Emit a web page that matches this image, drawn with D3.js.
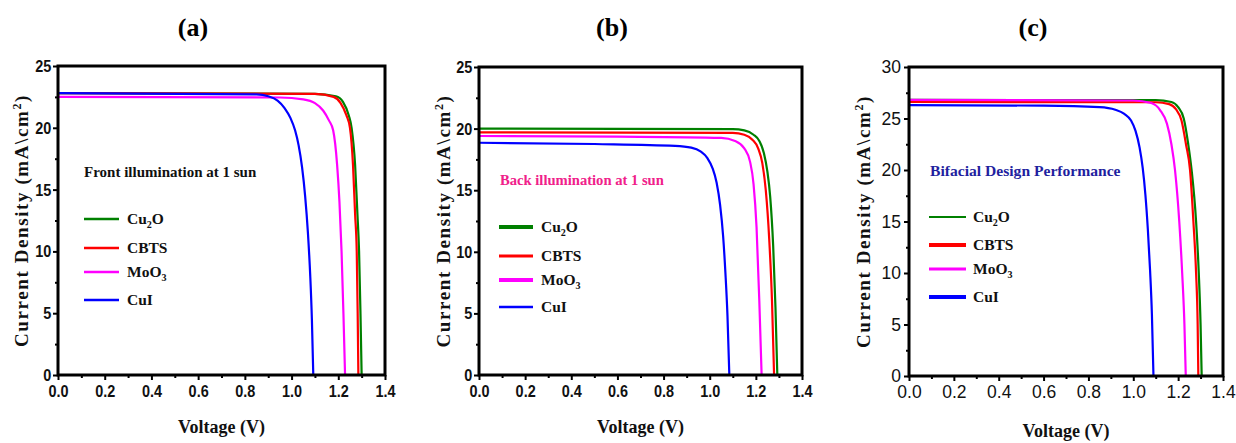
<!DOCTYPE html>
<html>
<head>
<meta charset="utf-8">
<script src="https://cdn.jsdelivr.net/npm/d3@7"></script>
<style>
  body { margin: 0; background: #fff; }
  svg { display: block; }
</style>
</head>
<body>
<svg id="chart" width="1236" height="443"></svg>
<script>
/**************************************************
 * Data - [voltage (V), current density (mA/cm2)]
 **************************************************/

const seriesNames = ["Cu2O", "CBTS", "MoO3", "CuI"];
const xTicks = [0.0, 0.2, 0.4, 0.6, 0.8, 1.0, 1.2, 1.4];
const yTicksAB = [0, 5, 10, 15, 20, 25];
const yTicksC = [0, 5, 10, 15, 20, 25, 30];

// (a) front illumination
const frontCu2O = [[0, 22.8], [1.1, 22.75], [1.19, 22.55], [1.22, 22.1], [1.245, 21.0], [1.257, 20.0], [1.272, 17.0], [1.282, 13.0], [1.289, 10.0], [1.295, 5.0], [1.30, 0]];
const frontCBTS = [[0, 22.8], [1.1, 22.75], [1.18, 22.5], [1.21, 22.0], [1.235, 21.0], [1.25, 20.0], [1.263, 17.0], [1.272, 13.0], [1.279, 10.0], [1.283, 5.0], [1.286, 0]];
const frontMoO3 = [[0, 22.5], [0.95, 22.45], [1.05, 22.3], [1.1, 22.0], [1.135, 21.4], [1.16, 20.6], [1.178, 19.8], [1.195, 17.0], [1.205, 14.0], [1.214, 10.0], [1.222, 5.0], [1.229, 0]];
const frontCuI = [[0, 22.8], [0.85, 22.7], [0.9, 22.55], [0.94, 22.2], [0.97, 21.6], [0.995, 20.8], [1.015, 19.8], [1.03, 18.6], [1.045, 16.8], [1.058, 14.5], [1.07, 11.5], [1.08, 8.0], [1.087, 4.5], [1.093, 0]];

// (b) back illumination
const backCu2O = [[0, 20.0], [1.1, 19.95], [1.15, 19.85], [1.19, 19.5], [1.215, 19.0], [1.235, 18.0], [1.25, 16.5], [1.262, 14.5], [1.275, 10.5], [1.285, 5.5], [1.293, 0]];
const backCBTS = [[0, 19.7], [1.1, 19.65], [1.15, 19.5], [1.185, 19.1], [1.21, 18.4], [1.228, 17.2], [1.243, 15.0], [1.258, 11.0], [1.27, 6.0], [1.279, 0]];
const backMoO3 = [[0, 19.4], [0.6, 19.35], [1.05, 19.25], [1.11, 19.0], [1.15, 18.4], [1.175, 17.3], [1.19, 15.5], [1.203, 12.0], [1.215, 6.0], [1.225, 0]];
const backCuI = [[0, 18.85], [0.5, 18.75], [0.85, 18.6], [0.92, 18.45], [0.96, 18.15], [0.99, 17.6], [1.012, 16.8], [1.03, 15.6], [1.045, 13.8], [1.058, 11.3], [1.068, 8.3], [1.077, 4.8], [1.085, 0]];

// (c) bifacial
const biCu2O = [[0, 26.8], [1.1, 26.78], [1.17, 26.6], [1.2, 26.1], [1.225, 25.0], [1.245, 22.5], [1.26, 20.0], [1.28, 15.0], [1.292, 10.0], [1.30, 5.0], [1.305, 0]];
const biCBTS = [[0, 26.6], [1.1, 26.58], [1.16, 26.4], [1.19, 25.9], [1.215, 24.8], [1.235, 22.5], [1.253, 20.0], [1.268, 15.0], [1.28, 10.0], [1.287, 5.0], [1.29, 0]];
const biMoO3 = [[0, 26.8], [1.0, 26.75], [1.08, 26.5], [1.12, 25.8], [1.15, 24.5], [1.17, 22.5], [1.186, 20.0], [1.205, 15.0], [1.218, 10.0], [1.228, 5.0], [1.234, 0]];
const biCuI = [[0, 26.3], [0.6, 26.25], [0.85, 26.1], [0.92, 25.85], [0.96, 25.45], [0.99, 24.8], [1.01, 23.8], [1.028, 22.2], [1.042, 20.2], [1.054, 17.6], [1.065, 14.2], [1.075, 10.2], [1.083, 6.0], [1.09, 0]];

/**************************************************
 * Styles / layout
 **************************************************/

const serif = "'Liberation Serif','Times New Roman',serif";
const sans = "'Liberation Sans',Arial,sans-serif";
const colors = { Cu2O: "#008000", CBTS: "#ff0000", MoO3: "#ff00ff", CuI: "#0000ff" };

const panels = [
  {
    tag: "(a)", tagX: 193, x0: 58, x1: 385, y0: 66, y1: 375, yMax: 25, yTicks: yTicksAB,
    tickWeight: "bold", tickSize: 17, tickSquash: 0.85, ylabX: 20, xlabY: 433,
    note: "Front illumination at 1 sun", noteColor: "#111", noteX: 84, noteY: 177, noteSize: 15,
    legX: 84, legW: 35, legTextX: 127, legY: [219, 248, 272, 300], legWidths: [2.5, 2.5, 2.5, 2.5],
    curves: [frontCu2O, frontCBTS, frontMoO3, frontCuI]
  },
  {
    tag: "(b)", tagX: 612, x0: 479, x1: 802, y0: 67, y1: 375, yMax: 25, yTicks: yTicksAB,
    tickWeight: "bold", tickSize: 17, tickSquash: 0.85, ylabX: 442, xlabY: 433,
    note: "Back illumination at 1 sun", noteColor: "#f0208a", noteX: 500, noteY: 185, noteSize: 14.6,
    legX: 499, legW: 34, legTextX: 541, legY: [227, 256, 280, 307], legWidths: [4, 3, 4, 2.5],
    curves: [backCu2O, backCBTS, backMoO3, backCuI]
  },
  {
    tag: "(c)", tagX: 1033, x0: 909, x1: 1223, y0: 67, y1: 376, yMax: 30, yTicks: yTicksC,
    tickWeight: "normal", tickSize: 17.5, tickSquash: 1, ylabX: 862, xlabY: 437,
    note: "Bifacial Design Performance", noteColor: "#1f1fa0", noteX: 930, noteY: 176, noteSize: 15.6,
    legX: 929, legW: 37, legTextX: 973, legY: [217, 245, 269, 297], legWidths: [2, 4, 3, 4],
    curves: [biCu2O, biCBTS, biMoO3, biCuI]
  }
];

const svg = d3.select("#chart");

// write "Cu2O" / "MoO3" with the digit as a subscript
function writeSub(sel, str, size) {
  const parts = str.match(/\d+|\D+/g);
  let low = false;
  parts.forEach(p => {
    const t = sel.append("tspan").text(p);
    if (/\d/.test(p)) { t.attr("dy", 4).attr("font-size", size * 0.65); low = true; }
    else if (low) { t.attr("dy", -4); low = false; }
  });
}

/**************************************************
 * Rendering
 **************************************************/

function renderPanel(p) {
  const g = svg.append("g");
  const x = d3.scaleLinear().domain([0, 1.4]).range([p.x0, p.x1]);
  const y = d3.scaleLinear().domain([0, p.yMax]).range([p.y1, p.y0]);

  // minor ticks
  const xMinor = d3.range(0.1, 1.4, 0.2);
  const yMinor = d3.range(2.5, p.yMax, 5);
  g.append("g")
    .attr("transform", `translate(0,${p.y1})`)
    .call(d3.axisBottom(x).tickValues(xMinor).tickSize(3).tickFormat(""))
    .call(a => a.select(".domain").remove())
    .selectAll("line").attr("stroke-width", 2);
  g.append("g")
    .attr("transform", `translate(${p.x0},0)`)
    .call(d3.axisLeft(y).tickValues(yMinor).tickSize(3).tickFormat(""))
    .call(a => a.select(".domain").remove())
    .selectAll("line").attr("stroke-width", 2);

  // major axes
  const xAxis = g.append("g")
    .attr("transform", `translate(0,${p.y1})`)
    .call(d3.axisBottom(x).tickValues(xTicks).tickFormat(d3.format(".1f")).tickSize(5).tickSizeOuter(0).tickPadding(5));
  const yAxis = g.append("g")
    .attr("transform", `translate(${p.x0},0)`)
    .call(d3.axisLeft(y).tickValues(p.yTicks).tickFormat(d3.format("d")).tickSize(5).tickSizeOuter(0).tickPadding(3));
  [xAxis, yAxis].forEach(a => {
    a.select(".domain").remove();
    a.selectAll("line").attr("stroke-width", 2);
    a.selectAll("text")
      .attr("fill", "#111")
      .attr("font-family", sans)
      .attr("font-weight", p.tickWeight)
      .attr("font-size", p.tickSize)
      .attr("transform", `scale(${p.tickSquash},1)`);
  });

  // curves
  const line = d3.line()
    .x(d => x(d[0]))
    .y(d => y(d[1]))
    .curve(d3.curveMonotoneX);
  p.curves.forEach((c, i) => {
    g.append("path")
      .datum(c)
      .attr("d", line)
      .attr("fill", "none")
      .attr("stroke", colors[seriesNames[i]])
      .attr("stroke-width", 2.2);
  });

  // frame
  g.append("rect")
    .attr("x", p.x0).attr("y", p.y0)
    .attr("width", p.x1 - p.x0).attr("height", p.y1 - p.y0)
    .attr("fill", "none").attr("stroke", "#000").attr("stroke-width", 3);

  // legend
  seriesNames.forEach((name, i) => {
    g.append("line")
      .attr("x1", p.legX).attr("x2", p.legX + p.legW)
      .attr("y1", p.legY[i]).attr("y2", p.legY[i])
      .attr("stroke", colors[name]).attr("stroke-width", p.legWidths[i]);
    const t = g.append("text")
      .attr("x", p.legTextX).attr("y", p.legY[i] + 5)
      .attr("font-family", serif).attr("font-weight", "bold").attr("font-size", 15.5)
      .attr("fill", "#111");
    writeSub(t, name, 15.5);
  });

  // annotation
  g.append("text")
    .attr("x", p.noteX).attr("y", p.noteY)
    .attr("font-family", serif).attr("font-weight", "bold").attr("font-size", p.noteSize)
    .attr("fill", p.noteColor)
    .text(p.note);

  // panel tag
  g.append("text")
    .attr("x", p.tagX).attr("y", 36)
    .attr("text-anchor", "middle")
    .attr("font-family", serif).attr("font-weight", "bold").attr("font-size", 26)
    .text(p.tag);

  // axis titles
  g.append("text")
    .attr("x", (p.x0 + p.x1) / 2).attr("y", p.xlabY)
    .attr("text-anchor", "middle")
    .attr("font-family", serif).attr("font-weight", "bold").attr("font-size", 18)
    .attr("fill", "#111")
    .text("Voltage (V)");

  const yl = g.append("text")
    .attr("transform", `translate(${p.ylabX + 8},${(p.y0 + p.y1) / 2}) rotate(-90)`)
    .attr("text-anchor", "middle")
    .attr("font-family", serif).attr("font-weight", "bold").attr("font-size", 19)
    .attr("letter-spacing", 1.6)
    .attr("fill", "#111");
  yl.append("tspan").text("Current Density (mA\\cm");
  yl.append("tspan").attr("dy", -7).attr("font-size", 12).text("2");
  yl.append("tspan").attr("dy", 7).text(")");
}

panels.forEach(renderPanel);
</script>
</body>
</html>
